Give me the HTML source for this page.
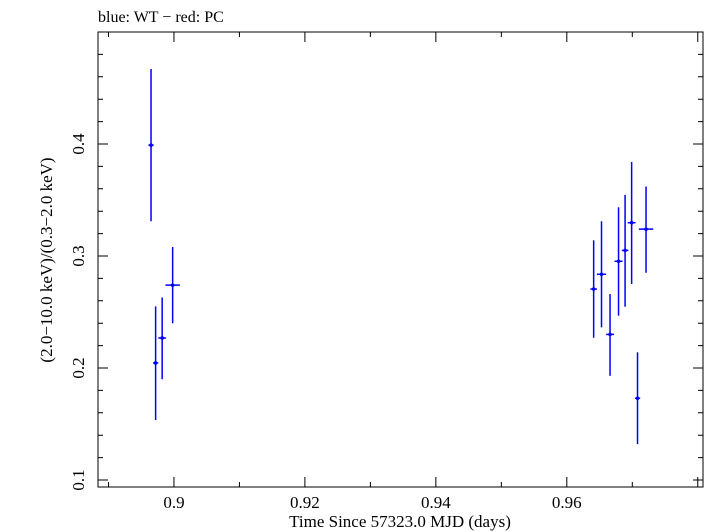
<!DOCTYPE html>
<html><head><meta charset="utf-8"><style>body{margin:0;background:#fff}svg{display:block}text{font-family:"Liberation Serif",serif;fill:#000}</style></head>
<body>
<svg id="chart" width="705" height="532" xmlns="http://www.w3.org/2000/svg">
<text x="98" y="22" font-size="16">blue: WT − red: PC</text>
<rect x="98" y="32" width="605" height="455" fill="none" stroke="#000" stroke-width="1"/>
<g id="ticks"></g><g id="marks"></g>
<text x="400" y="527" font-size="17" text-anchor="middle">Time Since 57323.0 MJD (days)</text>
<text transform="translate(52,260) rotate(-90)" font-size="17" text-anchor="middle">(2.0−10.0 keV)/(0.3−2.0 keV)</text>
</svg>
<script>
const times=[0.8965,0.8972,0.8982,0.8998,0.9641,0.9653,0.9666,0.9679,0.9689,0.9699,0.9708,0.9721];
const timeErr=[0.0004,0.0004,0.0006,0.0011,0.0005,0.0007,0.0006,0.0006,0.0005,0.0006,0.0004,0.0011];
const ratios=[0.399,0.2045,0.2268,0.274,0.2705,0.2837,0.230,0.2953,0.305,0.3297,0.173,0.324];
const ratioHi=[0.467,0.255,0.263,0.308,0.314,0.331,0.266,0.3435,0.3545,0.384,0.214,0.362];
const ratioLo=[0.331,0.1536,0.190,0.240,0.227,0.2363,0.193,0.2467,0.2547,0.275,0.132,0.285];
const xTicks=[0.9,0.92,0.94,0.96];
const xTickLabels=["0.9","0.92","0.94","0.96"];
const yTicks=[0.1,0.2,0.3,0.4];
const yTickLabels=["0.1","0.2","0.3","0.4"];
const X0=98,X1=703,Y0=487,Y1=32,xmin=0.8884,xmax=0.9808,ymin=0.09375,ymax=0.5;
const sx=v=>X0+(v-xmin)/(xmax-xmin)*(X1-X0);
const sy=v=>Y0-(v-ymin)/(ymax-ymin)*(Y0-Y1);
const NS="http://www.w3.org/2000/svg";
function mk(p,t,a){const e=document.createElementNS(NS,t);for(const k in a)e.setAttribute(k,a[k]);p.appendChild(e);return e;}
const tg=document.getElementById('ticks'),mg=document.getElementById('marks');
for(let v=0.89;v<0.981;v+=0.01){const x=sx(v),maj=Math.abs(Math.round(v*100)%2)===0,L=maj?10:5;
 const t=mk(tg,'path',{d:`M${x},${Y0}v${-L}M${x},${Y1}v${L}`,stroke:'#000'});
 
 }
for(let v=0.1;v<0.5;v+=0.02){const y=sy(v),maj=Math.abs(Math.round(v*100)%10)===0,L=maj?10:5;
 const t=mk(tg,'path',{d:`M${X0},${y}h${L}M${X1},${y}h${-L}`,stroke:'#000'});
 
 }
xTicks.forEach((v,i)=>{const t=mk(tg,'text',{x:sx(v),y:508,'font-size':17,'text-anchor':'middle'});t.textContent=xTickLabels[i];
 
 });
yTicks.forEach((v,i)=>{const y=sy(v);const t=mk(tg,'text',{transform:`translate(84,${y}) rotate(-90)`,'font-size':17,'text-anchor':'middle'});t.textContent=yTickLabels[i];
 
 });
times.forEach((t,i)=>{const x=sx(t),y=sy(ratios[i]);
 const g=mk(mg,'g',{stroke:'#0000ff','stroke-width':1.5});
 
 
 mk(g,'line',{x1:x,x2:x,y1:sy(ratioHi[i]),y2:sy(ratioLo[i])});
 mk(g,'line',{x1:sx(t-timeErr[i]),x2:sx(t+timeErr[i]),y1:y,y2:y});
 mk(g,'circle',{cx:x,cy:y,r:1.8,fill:'#0000ff',stroke:'none'});});
</script>
</body></html>
